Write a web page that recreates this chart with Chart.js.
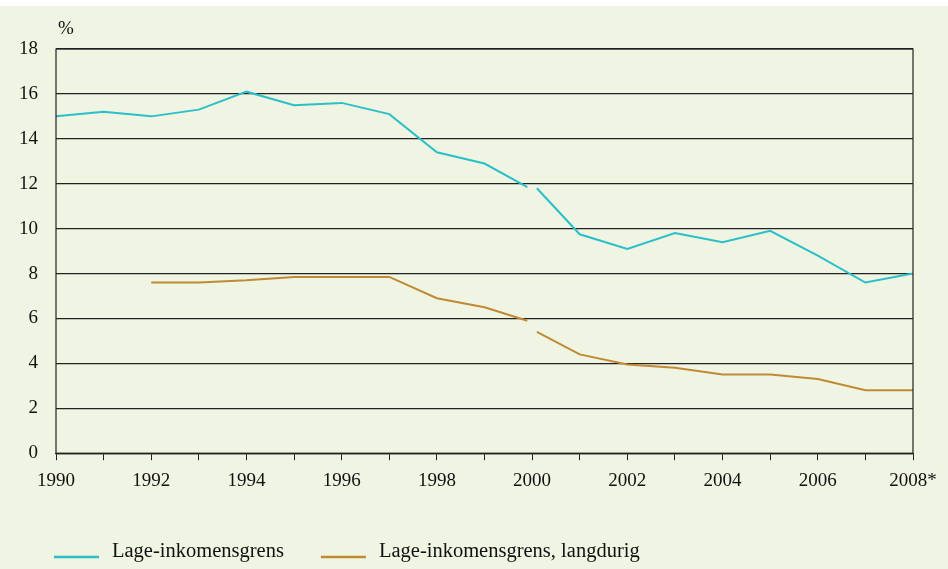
<!DOCTYPE html>
<html>
<head>
<meta charset="utf-8">
<script src="https://cdn.jsdelivr.net/npm/chart.js@4.4.1/dist/chart.umd.min.js"></script>
<style>
  html, body { margin: 0; padding: 0; background: #ffffff; }
  #wrap { position: absolute; left: 0; top: 6px; width: 948px; height: 563px; background: #f0f4e2; }
</style>
</head>
<body>
<div id="wrap"><canvas id="chart" width="948" height="563"></canvas></div>
<script>
// data, series break in 2000
const yearsA = [1990, 1991, 1992, 1993, 1994, 1995, 1996, 1997, 1998, 1999, 2000];
const yearsB = [2000, 2001, 2002, 2003, 2004, 2005, 2006, 2007, 2008];
const lowIncomeA = [15.0, 15.2, 15.0, 15.3, 16.1, 15.5, 15.6, 15.1, 13.4, 12.9, 11.85];
const lowIncomeB = [11.8, 9.75, 9.1, 9.8, 9.4, 9.9, 8.8, 7.6, 8.0];
const longTermA = [null, null, 7.6, 7.6, 7.7, 7.85, 7.85, 7.85, 6.9, 6.5, 5.9];
const longTermB = [5.4, 4.4, 3.95, 3.8, 3.5, 3.5, 3.3, 2.8, 2.8];
const seriesLabels = ["Lage-inkomensgrens", "Lage-inkomensgrens, langdurig"];
const seriesColors = ["#2bbfca", "#c08a35"];

const fontFamily = "'Liberation Serif', 'DejaVu Serif', serif";
const breakGap = 0.1; // small gap in the line at the series break

function points(years, values, shiftEnd, shiftStart) {
    let pts = [];
    for (let i = 0; i < years.length; i++) {
        if (values[i] === null) continue;
        let x = years[i];
        if (shiftEnd && i === years.length - 1) x -= breakGap;
        if (shiftStart && i === 0) x += breakGap;
        pts.push({ x: x, y: values[i] });
    }
    return pts;
}

function lineSet(label, color, data, inLegend) {
    return {
        label: label,
        data: data,
        borderColor: color,
        backgroundColor: color,
        borderWidth: 2,
        pointRadius: 0,
        tension: 0,
        inLegend: inLegend,
    };
}

// frame, "%" label and legend
const extras = {
    id: "extras",
    afterDraw(chart) {
        const ctx = chart.ctx;
        const a = chart.chartArea;
        ctx.save();
        ctx.strokeStyle = "#222";
        ctx.lineWidth = 1.2;
        ctx.strokeRect(a.left, a.top, a.right - a.left, a.bottom - a.top);

        ctx.fillStyle = "#111";
        ctx.font = "19px " + fontFamily;
        ctx.textAlign = "left";
        ctx.textBaseline = "middle";
        ctx.fillText("%", a.left + 2, 23);

        ctx.font = "20.5px " + fontFamily;
        let x = 54;
        const y = 546;
        chart.data.datasets.forEach(function (ds) {
            if (!ds.inLegend) return;
            ctx.strokeStyle = ds.borderColor;
            ctx.lineWidth = 2.5;
            ctx.beginPath();
            ctx.moveTo(x, y + 5);
            ctx.lineTo(x + 45, y + 5);
            ctx.stroke();
            ctx.fillStyle = "#111";
            ctx.fillText(ds.label, x + 58, y);
            x += 58 + ctx.measureText(ds.label).width + 37;
        });
        ctx.restore();
    },
};

new Chart(document.getElementById("chart"), {
    type: "line",
    data: {
        datasets: [
            lineSet(seriesLabels[0], seriesColors[0], points(yearsA, lowIncomeA, true, false), true),
            lineSet(seriesLabels[0], seriesColors[0], points(yearsB, lowIncomeB, false, true), false),
            lineSet(seriesLabels[1], seriesColors[1], points(yearsA, longTermA, true, false), true),
            lineSet(seriesLabels[1], seriesColors[1], points(yearsB, longTermB, false, true), false),
        ],
    },
    options: {
        responsive: false,
        animation: false,
        layout: { padding: { left: 0, right: 35, top: 43, bottom: 68 } },
        plugins: { legend: { display: false }, tooltip: { enabled: false } },
        scales: {
            x: {
                type: "linear",
                min: 1990,
                max: 2008,
                afterFit(scale) { scale.paddingRight = 0; },
                ticks: {
                    stepSize: 1,
                    autoSkip: false,
                    maxRotation: 0,
                    color: "#111",
                    padding: 9,
                    font: { family: fontFamily, size: 19 },
                    callback: function (v) {
                        if (v % 2 !== 0) return "";
                        return v === 2008 ? "2008*" : String(v);
                    },
                },
                grid: { drawOnChartArea: false, drawTicks: true, tickLength: 7, color: "#222", lineWidth: 1 },
                border: { color: "#222", width: 1.2 },
            },
            y: {
                min: 0,
                max: 18,
                afterFit(scale) { scale.width = 56; },
                ticks: {
                    stepSize: 2,
                    color: "#111",
                    padding: 18,
                    font: { family: fontFamily, size: 19 },
                },
                grid: { color: "#222", lineWidth: 1.3, drawTicks: false },
                border: { display: false },
            },
        },
    },
    plugins: [extras],
});
</script>
</body>
</html>
